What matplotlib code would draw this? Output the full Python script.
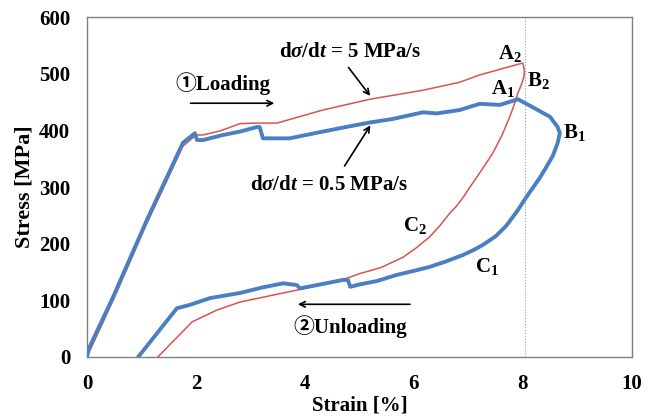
import matplotlib
matplotlib.use("Agg")
import matplotlib.pyplot as plt

plt.rcParams['font.family'] = ['Liberation Serif', 'Noto Sans CJK JP', 'DejaVu Sans']
plt.rcParams['font.weight'] = 'bold'
plt.rcParams['mathtext.fontset'] = 'custom'
plt.rcParams['mathtext.rm'] = 'Liberation Serif:bold'
plt.rcParams['mathtext.it'] = 'Liberation Serif:italic:bold'
plt.rcParams['mathtext.bf'] = 'Liberation Serif:bold'

# ---- data ----
# 0.5 MPa/s (blue)
blue_strain = [0.0, 0.03, 0.48, 1.10, 1.47, 1.76, 1.98, 2.02, 2.13, 2.50, 2.81, 3.12, 3.17, 3.23,
               3.72, 4.28, 4.70, 5.19, 5.60, 6.17, 6.42, 6.84, 7.21, 7.58, 7.91,
               8.20, 8.50, 8.64, 8.68, 8.64, 8.55, 8.43, 8.31, 8.18, 8.07, 7.90, 7.70, 7.50,
               7.27, 7.10, 6.90, 6.60, 6.29, 6.00, 5.69, 5.32, 5.00,
               4.88, 4.83, 4.79, 4.70, 3.91, 3.85, 3.60, 3.23, 2.81, 2.26, 1.89, 1.65, 0.94]
blue_stress = [0, 14, 106, 242, 318, 378, 395, 383, 383, 392, 398, 406, 406, 386,
               386, 397, 405, 414, 420, 432, 430, 436, 447, 445, 455,
               440, 424, 406, 395, 378, 355, 335, 316, 298, 283, 258, 232, 213,
               198, 189, 180, 169, 159, 152, 145, 134, 128,
               125, 124, 136, 136, 121, 127, 130, 123, 113, 104, 92, 86, 0]

# 5 MPa/s (red)
red_strain = [0.0, 0.48, 1.10, 1.47, 1.76, 1.98, 2.04, 2.13, 2.44, 2.81, 3.12, 3.49, 4.33, 5.19,
              6.17, 6.84, 7.21, 8.00, 8.03, 8.02, 7.97, 7.91, 7.84, 7.76, 7.62, 7.45, 7.30,
              7.16, 7.03, 6.90, 6.78, 6.66, 6.48, 6.29, 6.05, 5.80, 5.40, 5.00,
              4.77, 3.85, 2.81, 2.39, 1.93, 1.30]
red_stress = [0, 100, 236, 312, 372, 390, 392, 392, 399, 412, 413, 413, 436, 455,
              471, 485, 498, 519, 505, 494, 480, 466, 445, 424, 392, 360, 338,
              318, 300, 281, 266, 254, 232, 212, 193, 176, 158, 147,
              139, 118, 97, 83, 62, 0]

x_ticks = [0, 2, 4, 6, 8, 10]
y_ticks = [0, 100, 200, 300, 400, 500, 600]
max_strain_line = 8.04

fig = plt.figure(figsize=(6.54, 4.18), dpi=100)
ax = fig.add_axes([0.133, 0.146, 0.833, 0.813])

ax.plot([max_strain_line, max_strain_line], [0, 600], color='#9a9a9a', lw=0.8, ls=':')
ax.plot(red_strain, red_stress, color='#d9534f', lw=1.1, zorder=3, solid_joinstyle='round')
ax.plot(blue_strain, blue_stress, color='#4a7fc1', lw=2.8, zorder=4,
        solid_joinstyle='round', solid_capstyle='round')

ax.set_xlim(0, 10)
ax.set_ylim(0, 600)
ax.set_xticks(x_ticks)
ax.set_yticks(y_ticks)
ax.tick_params(length=0, labelsize=15, pad=12)
for lab in ax.get_xticklabels() + ax.get_yticklabels():
    lab.set_fontweight('bold')
for s in ax.spines.values():
    s.set_color('#808080')
    s.set_linewidth(1.0)

ax.set_xlabel('Strain [%]', fontsize=15, fontweight='bold', labelpad=1)
ax.set_ylabel('Stress [MPa]', fontsize=16, fontweight='bold', labelpad=3)

fs = 15
ax.text(1.62, 482, '①Loading', fontsize=fs, fontweight='bold', ha='left', va='center')
ax.annotate('', xy=(3.49, 448), xytext=(1.85, 448),
            arrowprops=dict(arrowstyle='->', color='black', lw=1.2))
ax.text(4.83, 538, r'd$\sigma$/d$t$ = 5 MPa/s', fontsize=fs, ha='center', va='center')
ax.annotate('', xy=(5.23, 457), xytext=(4.77, 515),
            arrowprops=dict(arrowstyle='->', color='black', lw=1.2))
ax.text(4.44, 303, r'd$\sigma$/d$t$ = 0.5 MPa/s', fontsize=fs, ha='center', va='center')
ax.annotate('', xy=(5.23, 413), xytext=(4.70, 333),
            arrowprops=dict(arrowstyle='->', color='black', lw=1.2))
ax.text(4.84, 53, '②Unloading', fontsize=fs, ha='center', va='center')
ax.annotate('', xy=(3.82, 93), xytext=(5.98, 93),
            arrowprops=dict(arrowstyle='->', color='black', lw=1.2))

ax.text(7.76, 536, r'A$_2$', fontsize=fs, ha='center', va='center')
ax.text(8.28, 489, r'B$_2$', fontsize=fs, ha='center', va='center')
ax.text(7.64, 474, r'A$_1$', fontsize=fs, ha='center', va='center')
ax.text(8.95, 397, r'B$_1$', fontsize=fs, ha='center', va='center')
ax.text(6.02, 233, r'C$_2$', fontsize=fs, ha='center', va='center')
ax.text(7.34, 159, r'C$_1$', fontsize=fs, ha='center', va='center')

fig.savefig('out.png', dpi=100)
